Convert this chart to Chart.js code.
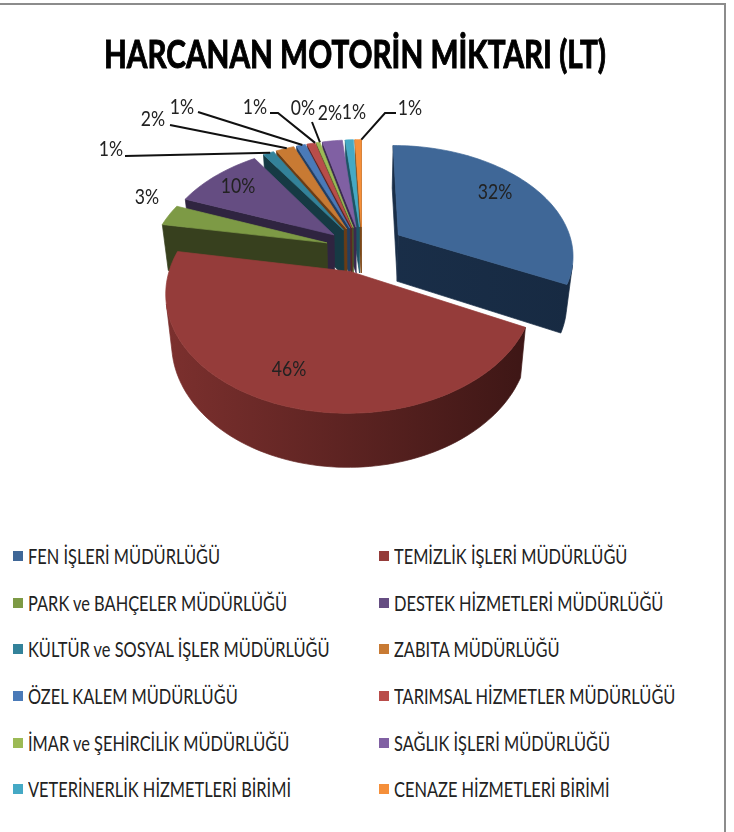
<!DOCTYPE html>
<html>
<head>
<meta charset="utf-8">
<title>Harcanan Motorin Miktarı</title>
<script src="https://cdn.jsdelivr.net/npm/chart.js@4"></script>
<style>
  html, body { margin: 0; background: #fff; }
  body { width: 734px; height: 832px; position: relative; overflow: hidden; }
  #frame { position: absolute; left: 0; top: 3px; width: 724px; height: 829px; border-top: 2px solid #8c8c8c; border-right: 2px solid #8c8c8c; }
  #pie { position: absolute; left: 0; top: 0; }
  .item { position: absolute; font: 22px Lato, "Liberation Sans", sans-serif; color: #222; white-space: nowrap; line-height: 24px; }
  .item i { position: absolute; left: -15px; top: 7px; width: 10px; height: 10px; }
  .item span { display: inline-block; transform: scaleX(0.745); transform-origin: 0 50%; }
</style>
</head>
<body>
<div id="frame"></div>
<canvas id="pie" width="734" height="530"></canvas>
<div id="legend"></div>
<script>
const chartTitle = "HARCANAN MOTORİN MİKTARI (LT)";
const categories = ["FEN İŞLERİ MÜDÜRLÜĞÜ", "TEMİZLİK İŞLERİ MÜDÜRLÜĞÜ", "PARK ve BAHÇELER MÜDÜRLÜĞÜ", "DESTEK HİZMETLERİ MÜDÜRLÜĞÜ", "KÜLTÜR ve SOSYAL İŞLER MÜDÜRLÜĞÜ", "ZABITA MÜDÜRLÜĞÜ", "ÖZEL KALEM MÜDÜRLÜĞÜ", "TARIMSAL HİZMETLER MÜDÜRLÜĞÜ", "İMAR ve ŞEHİRCİLİK MÜDÜRLÜĞÜ", "SAĞLIK İŞLERİ MÜDÜRLÜĞÜ", "VETERİNERLİK HİZMETLERİ BİRİMİ", "CENAZE HİZMETLERİ BİRİMİ"];
// share of each unit
const shares = [32.3, 45.6, 3.1, 9.8, 1.2, 2.0, 1.0, 0.9, 0.4, 2.2, 0.9, 0.7];
const topColors = ["#3f6797", "#953c3a", "#7d9a45", "#654d82", "#33829a", "#c87a33", "#4a7ab8", "#b94d4a", "#9cba55", "#8060a3", "#45a9c5", "#f58f3a"];
const wallLeft = ["#1c3350", "#7c302e", "#37401e", "#2f2440", "#163a44", "#6a3c14", "#243e60", "#5c2423", "#4a5a24", "#3a2a50", "#1c5464", "#7c4818"];
const wallRight = ["#172a42", "#351312", "#37401e", "#2f2440", "#163a44", "#6a3c14", "#243e60", "#5c2423", "#4a5a24", "#3a2a50", "#1c5464", "#7c4818"];
const explodes = [0.25, 0.21, 0.21, 0.21, 0.21, 0.21, 0.21, 0.21, 0.21, 0.21, 0.21, 0.21];

// where the percentage texts sit, and the leader lines of the small slices
const labelSpots = [[495, 192], [289, 369], [147, 197], [238, 186], [111, 149], [153, 119], [182, 107], [255, 107], [303, 108], [330, 113], [354, 112], [410, 108]];
const leaderBends = [null, null, null, null, [[125, 156]], [[170, 125]], [[198, 112]], [[270, 113], [278, 113]], [[312, 122]], null, null, [[396, 113], [385, 113]]];

// 3D look: the flat pie is tipped back with some perspective
const view = { cx: 362, cy: 249, gx: 175, fy: 109, persp: 0.17, depth: 47, shrink: 0.03 };

function project(a, b, z) {
  const d = 1 - view.persp * b;
  const s = 1 - z * view.shrink;
  return [view.cx + view.gx * a / d * s, view.cy + view.fy * b / d * s + z * view.depth / d];
}

function slicePoints(arc, i) {
  // chart.js angles start at 3 o'clock, so a = cos, b = sin
  const mid = (arc.startAngle + arc.endAngle) / 2;
  const ox = Math.cos(mid) * explodes[i], oy = Math.sin(mid) * explodes[i];
  const pts = [[ox, oy]];
  const n = Math.max(2, Math.ceil((arc.endAngle - arc.startAngle) / 0.03));
  for (let k = 0; k <= n; k++) {
    const t = arc.startAngle + (arc.endAngle - arc.startAngle) * k / n;
    pts.push([ox + Math.cos(t), oy + Math.sin(t)]);
  }
  return pts;
}

function fillPath(ctx, pts, style) {
  ctx.beginPath();
  pts.forEach((p, k) => k ? ctx.lineTo(p[0], p[1]) : ctx.moveTo(p[0], p[1]));
  ctx.closePath();
  ctx.fillStyle = style;
  ctx.strokeStyle = style;
  ctx.lineWidth = 0.7;
  ctx.fill();
  ctx.stroke();
}

function area(q) {
  let s = 0;
  q.forEach((p, k) => { const r = q[(k + 1) % q.length]; s += p[0] * r[1] - r[0] * p[1]; });
  return s;
}

// side walls of one slice, neighbouring visible faces are merged into one strip
function drawWalls(ctx, pts, style) {
  let tops = [], bots = [];
  const flush = () => {
    if (tops.length) fillPath(ctx, tops.concat(bots.reverse()), style);
    tops = [];
    bots = [];
  };
  pts.forEach((p, k) => {
    const r = pts[(k + 1) % pts.length];
    const quad = [project(p[0], p[1], 0), project(r[0], r[1], 0), project(r[0], r[1], 1), project(p[0], p[1], 1)];
    if (area(quad) < 0) {
      if (!tops.length) { tops.push(quad[0]); bots.push(quad[3]); }
      tops.push(quad[1]);
      bots.push(quad[2]);
    } else {
      flush();
    }
  });
  flush();
}

function squeezedText(ctx, text, x, y, k) {
  ctx.fillText(text, x, y, ctx.measureText(text).width * k);
}

const pie3d = {
  id: "pie3d",
  beforeDatasetDraw(chart) {
    const ctx = chart.ctx;
    const arcs = chart.getDatasetMeta(0).data;
    const order = arcs.map((arc, i) => i).sort((i, j) =>
      Math.sin((arcs[i].startAngle + arcs[i].endAngle) / 2) - Math.sin((arcs[j].startAngle + arcs[j].endAngle) / 2));
    order.forEach(i => {
      const pts = slicePoints(arcs[i], i);
      const grad = ctx.createLinearGradient(165, 0, 575, 0);
      grad.addColorStop(0, wallLeft[i]);
      grad.addColorStop(1, wallRight[i]);
      drawWalls(ctx, pts, grad);
      fillPath(ctx, pts.map(p => project(p[0], p[1], 0)), topColors[i]);
    });
    return false;
  },
  afterDatasetsDraw(chart) {
    const ctx = chart.ctx;
    const arcs = chart.getDatasetMeta(0).data;
    ctx.save();
    ctx.textAlign = "center";
    ctx.textBaseline = "middle";
    ctx.fillStyle = "#000";
    ctx.strokeStyle = "#000";
    ctx.lineWidth = 1;
    ctx.font = 'bold 38px Lato, "Liberation Sans", sans-serif';
    ctx.fillText(chartTitle, 355, 56, 502);
    ctx.strokeText(chartTitle, 355, 56, 502);

    ctx.font = '22px Lato, "Liberation Sans", sans-serif';
    ctx.fillStyle = "#222";
    ctx.strokeStyle = "#111";
    ctx.lineWidth = 2;
    shares.forEach((v, i) => {
      squeezedText(ctx, Math.round(v) + "%", labelSpots[i][0], labelSpots[i][1], 0.8);
      if (!leaderBends[i]) return;
      const pts = slicePoints(arcs[i], i);
      const p = pts[Math.floor(pts.length / 2) + 1];
      const end = project(p[0], p[1], 0);
      ctx.beginPath();
      leaderBends[i].forEach((b, k) => k ? ctx.lineTo(b[0], b[1]) : ctx.moveTo(b[0], b[1]));
      ctx.lineTo(end[0], end[1]);
      ctx.stroke();
    });
    ctx.restore();
  }
};

const chart = new Chart(document.getElementById("pie"), {
  type: "pie",
  data: { labels: categories, datasets: [{ data: shares, backgroundColor: topColors }] },
  plugins: [pie3d],
  options: {
    responsive: false,
    animation: false,
    plugins: {
      legend: { display: false },
      tooltip: { enabled: false }
    }
  }
});

// two column legend below the chart, filled from the chart's own legend items
const legendBox = document.getElementById("legend");
const rowY = [544, 591, 637, 684, 731, 777];
chart.options.plugins.legend.labels.generateLabels(chart).forEach((item, i) => {
  const el = document.createElement("div");
  el.className = "item";
  el.style.left = (i % 2 ? 394 : 28) + "px";
  el.style.top = rowY[Math.floor(i / 2)] + "px";
  const box = document.createElement("i");
  box.style.background = item.fillStyle;
  const span = document.createElement("span");
  span.textContent = item.text;
  el.append(box, span);
  legendBox.appendChild(el);
});
</script>
</body>
</html>
